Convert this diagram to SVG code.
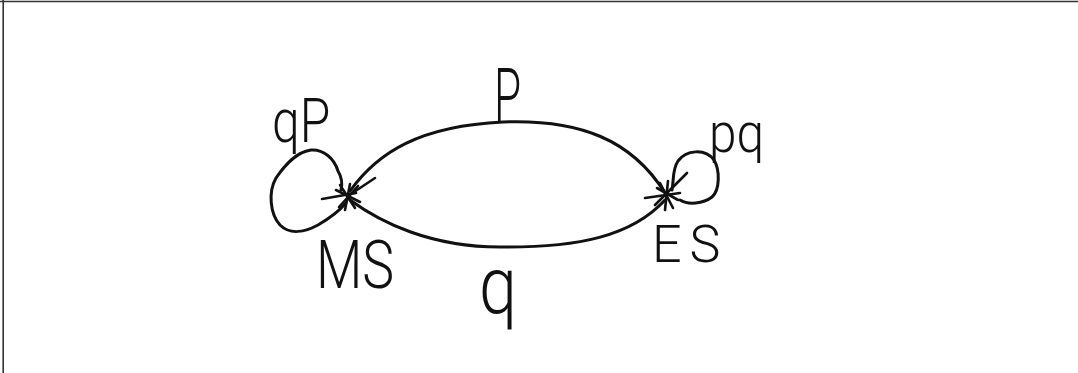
<svg xmlns="http://www.w3.org/2000/svg" width="1078" height="373" viewBox="0 0 1078 373">
<style>
.ink{fill:none;stroke:#111;stroke-width:3;stroke-linecap:round;stroke-linejoin:round}
.star{fill:none;stroke:#111;stroke-width:2.6;stroke-linecap:round}
.lbl{font-family:Roboto,"Liberation Sans",sans-serif;font-weight:300;fill:#111}
</style>
<rect x="0" y="0" width="1078" height="373" fill="#fff"/>
<g id="frame">
<line x1="0" y1="1.5" x2="1078" y2="1.5" stroke="#333" stroke-width="1.6"/>
<line x1="3.2" y1="0" x2="3.2" y2="373" stroke="#333" stroke-width="1.6"/>
</g>
<g id="connectors">
<path class="ink" d="M350,191 C378,152 420,126 503,122 C580,119 632,140 665,193"/>
<path class="ink" d="M350,200 C380,222 430,247 500,247 C578,248 632,236 665,200"/>
<path class="ink" d="M341,190 C343,182 341,176 338,171 C334,158 323,149 311,150 C296,152 285,165 276,178 C268,192 270,214 280,225 C290,235 305,232 318,225 C330,218 340,210 346,203"/>
<path class="ink" d="M672,190 C674,180 672,170 678,161 C686,150 705,148 714,160 C720,170 720,190 712,197 C703,204 688,205 680,200"/>
<g id="edge-labels">
<text class="lbl" font-size="76" transform="translate(494,122) scale(0.58,1)">P</text>
<text class="lbl" font-size="80" transform="translate(479,313) scale(0.85,1)">q</text>
<text class="lbl" font-size="62" transform="translate(272,142) scale(0.8,1)">qP</text>
<text class="lbl" font-size="55" transform="translate(709,152) scale(0.9,1)">pq</text>
</g>
</g>
<g id="node-MS">
<g class="star">
<line x1="322" y1="199" x2="356" y2="193"/>
<line x1="340" y1="185" x2="355" y2="208"/>
<line x1="350" y1="184" x2="345" y2="210"/>
<line x1="339" y1="207" x2="358" y2="186"/>
<line x1="375" y1="178" x2="348" y2="196"/>
<line x1="336" y1="190" x2="360" y2="202"/>
</g>
<text class="lbl" font-size="67" transform="translate(316,288) scale(0.8,1)">MS</text>
</g>
<g id="node-ES">
<g class="star">
<line x1="645" y1="198" x2="680" y2="193"/>
<line x1="660" y1="183" x2="673" y2="208"/>
<line x1="668" y1="181" x2="665" y2="210"/>
<line x1="655" y1="205" x2="687" y2="173"/>
<line x1="657" y1="188" x2="678" y2="200"/>
</g>
<text class="lbl" font-size="52" letter-spacing="8" transform="translate(652,262)">ES</text>
</g>
</svg>
